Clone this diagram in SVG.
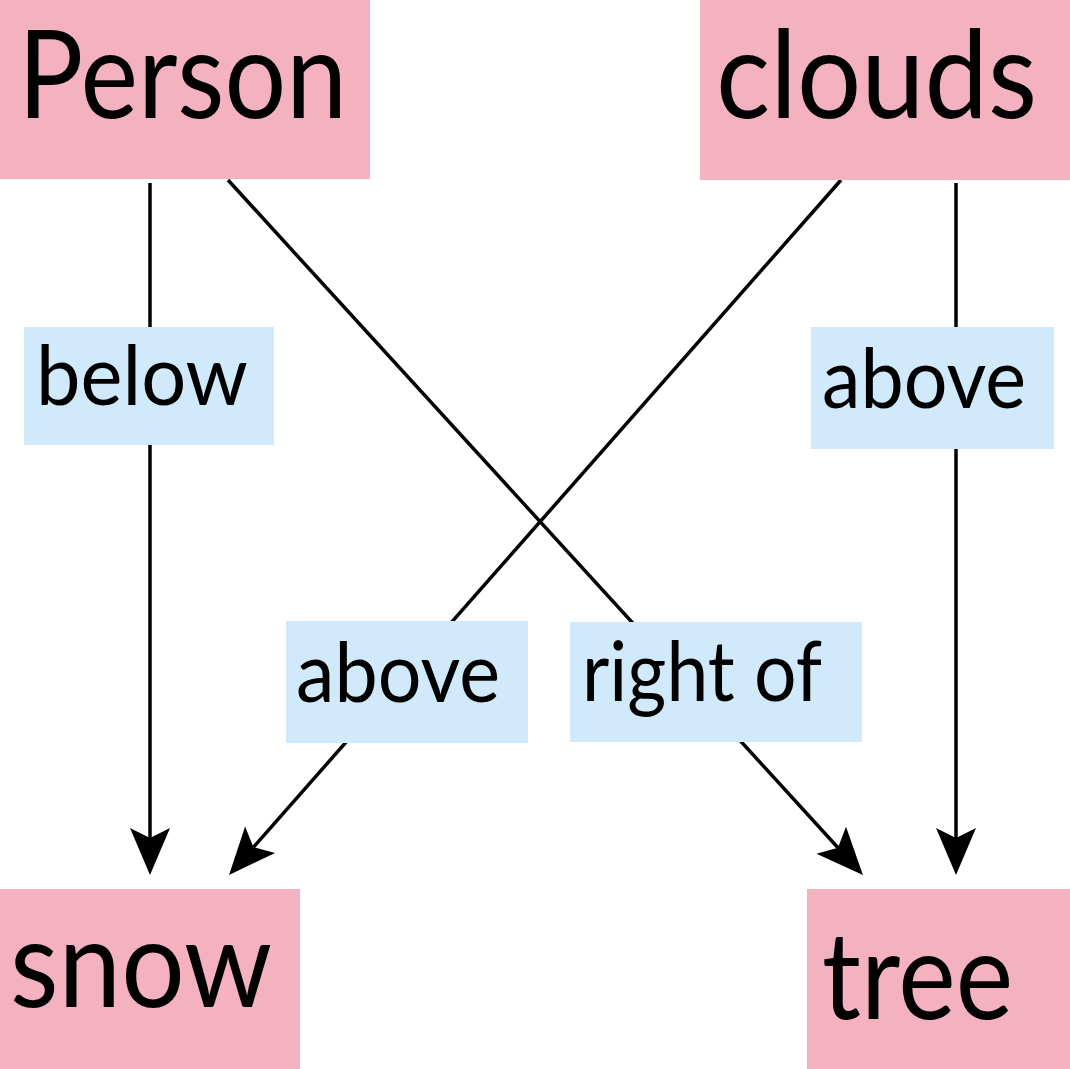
<svg xmlns="http://www.w3.org/2000/svg" width="1070" height="1069" viewBox="0 0 1070 1069">
<style>
.node{fill:#f4b2c0}
.lbl{fill:#d0eafb}
.nt{font-family:Lato,"Open Sans",sans-serif;font-size:123px;fill:#000}
.lt{font-family:Lato,"Open Sans",sans-serif;font-size:83px;fill:#000}
.edge{stroke:#000;stroke-width:3.5;fill:none;marker-end:url(#arr)}
</style>
<defs>
<marker id="arr" markerUnits="userSpaceOnUse" viewBox="-2 -22 52 44" markerWidth="52" markerHeight="44" refX="10" refY="0" orient="auto">
<path d="M0,-20 L47,0 L0,20 L10,0 Z" fill="#000"/>
</marker>
</defs>
<rect width="1070" height="1069" fill="#fff"/>
<g id="connectors">
<line class="edge" x1="150" y1="183" x2="150" y2="838"/>
<line class="edge" x1="956" y1="183" x2="956" y2="838"/>
<line class="edge" x1="228" y1="180" x2="838" y2="847.7"/>
<line class="edge" x1="841" y1="180" x2="253.5" y2="847.2"/>
</g>
<g id="label-below"><rect class="lbl" x="24" y="327" width="250" height="118"/><text class="lt" x="36" y="405" textLength="212" lengthAdjust="spacingAndGlyphs">below</text></g>
<g id="label-above-right"><rect class="lbl" x="811" y="327" width="243" height="122"/><text class="lt" x="822" y="408" textLength="204" lengthAdjust="spacingAndGlyphs">above</text></g>
<g id="label-above-left"><rect class="lbl" x="286" y="621" width="242" height="122"/><text class="lt" x="296" y="702" textLength="204" lengthAdjust="spacingAndGlyphs">above</text></g>
<g id="label-right-of"><rect class="lbl" x="570" y="622" width="292" height="120"/><text class="lt" x="582" y="701" textLength="240" lengthAdjust="spacingAndGlyphs">right of</text></g>
<g id="node-person"><rect class="node" x="0" y="0" width="370" height="179"/><text class="nt" x="18" y="118" textLength="329" lengthAdjust="spacingAndGlyphs">Person</text></g>
<g id="node-clouds"><rect class="node" x="700" y="0" width="370" height="180"/><text class="nt" x="716" y="118" textLength="321" lengthAdjust="spacingAndGlyphs">clouds</text></g>
<g id="node-snow"><rect class="node" x="0" y="889" width="300" height="180"/><text class="nt" x="10" y="1007" textLength="262" lengthAdjust="spacingAndGlyphs">snow</text></g>
<g id="node-tree"><rect class="node" x="807" y="889" width="263" height="180"/><text class="nt" x="822" y="1019" textLength="191" lengthAdjust="spacingAndGlyphs">tree</text></g>
</svg>
